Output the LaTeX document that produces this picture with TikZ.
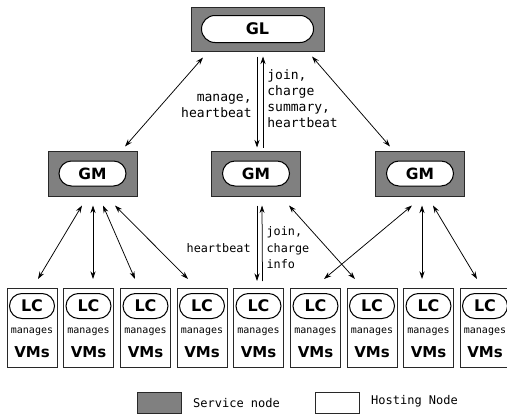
\documentclass[tikz,border=0pt]{standalone}
\usepackage{fontspec}
\setmainfont{DejaVu Sans}
\newfontfamily\monofont{DejaVu Sans Mono}
\usetikzlibrary{arrows.meta,shapes.misc}
\definecolor{srvgray}{RGB}{128,128,128}
\definecolor{edgegray}{RGB}{40,40,40}
\begin{document}
\begin{tikzpicture}[x=1pt,y=-1pt,
  >={Stealth[length=7.5pt,width=5pt]},
  service/.style={draw=edgegray, line width=1pt, fill=srvgray, inner sep=0pt},
  hosting/.style={draw=edgegray, line width=1pt, fill=white, inner sep=0pt},
  pill/.style={rounded rectangle, draw=black, line width=1pt, fill=white, inner sep=0pt},
  big/.style={font=\bfseries\fontsize{16}{16}\selectfont},
  conn/.style={line width=0.75pt},
  toplabel/.style={font=\monofont\fontsize{13}{16}\selectfont, inner sep=0pt},
  midlabel/.style={font=\monofont\fontsize{11.8}{16.5}\selectfont, inner sep=0pt},
  smalllabel/.style={font=\monofont\fontsize{10}{10}\selectfont, inner sep=0pt},
  legendlabel/.style={font=\monofont\fontsize{12}{12}\selectfont, inner sep=0pt, anchor=west}
]
\useasboundingbox (0,0) rectangle (507,415);

% GL
\node[service, minimum width=133pt, minimum height=44pt] (GL) at (257.5,29) {};
\node[pill, big, minimum width=112pt, minimum height=27pt] (GLp) at (GL) {GL};

% GMs
\foreach \n/\x in {1/92.5, 2/256, 3/420}{
  \node[service, minimum width=89pt, minimum height=45pt] (GM\n) at (\x,173.5) {};
  \node[pill, font=\bfseries\fontsize{15.5}{15.5}\selectfont, minimum width=67pt, minimum height=25pt] (GM\n p) at (GM\n) {GM};
}

% LCs
\foreach \i/\x in {1/32, 2/88.5, 3/145.5, 4/202, 5/258.5, 6/315.5, 7/372, 8/428.5, 9/485}{
  \node[hosting, minimum width=50pt, minimum height=79pt] (LC\i) at (\x,328) {};
  \node[pill, big, minimum width=45pt, minimum height=25pt] (LC\i p) at (\x,306) {LC};
  \node[smalllabel] (LC\i m) at (\x,331.5) {manages};
  \node[font=\bfseries\fontsize{15}{15}\selectfont, inner sep=0pt] (LC\i v) at (\x,352) {VMs};
}

% GL <-> GM
\draw[conn,<->] ([xshift=-54.5pt,yshift=-6pt]GL.south) -- ([xshift=32.5pt,yshift=4pt]GM1.north);
\draw[conn,<->] ([xshift=54.5pt,yshift=-5pt]GL.south) -- ([xshift=-30pt,yshift=4pt]GM3.north);
\draw[conn,->] ([xshift=-0.5pt,yshift=-5pt]GL.south) -- node[toplabel, anchor=east, xshift=-5pt, yshift=-4pt, align=right] (lblA) {manage,\\heartbeat} ([xshift=1pt,yshift=3pt]GM2.north);
\draw[conn,->] ([xshift=7pt,yshift=3pt]GM2.north) -- node[toplabel, anchor=west, xshift=4pt, yshift=3.5pt, align=left] (lblB) {join,\\charge\\summary,\\heartbeat} ([xshift=5.5pt,yshift=-5pt]GL.south);

% GM1 <-> LCs
\draw[conn,<->] ([xshift=-10.5pt,yshift=-9pt]GM1.south) -- ([xshift=6pt,yshift=9pt]LC1.north);
\draw[conn,<->] ([xshift=0.5pt,yshift=-9pt]GM1.south) -- ([xshift=4.5pt,yshift=9pt]LC2.north);
\draw[conn,<->] ([xshift=10.5pt,yshift=-9pt]GM1.south) -- ([xshift=-10.5pt,yshift=9pt]LC3.north);
\draw[conn,<->] ([xshift=22.5pt,yshift=-9pt]GM1.south) -- ([xshift=-14pt,yshift=9pt]LC4.north);

% GM2 <-> LCs
\draw[conn,->] ([xshift=1pt,yshift=-9pt]GM2.south) -- node[midlabel, anchor=east, xshift=-6pt, yshift=-5pt] (lblC) {heartbeat} ([xshift=-1.5pt,yshift=7pt]LC5.north);
\draw[conn,->] ([xshift=4pt,yshift=7pt]LC5.north) -- node[midlabel, anchor=west, xshift=4pt, yshift=-4.5pt, align=left] (lblD) {join,\\charge\\info} ([xshift=6pt,yshift=-9pt]GM2.south);
\draw[conn,<->] ([xshift=33pt,yshift=-9pt]GM2.south) -- ([xshift=-17pt,yshift=9pt]LC7.north);

% GM3 <-> LCs
\draw[conn,<->] ([xshift=-8pt,yshift=-9pt]GM3.south) -- ([xshift=8.5pt,yshift=9pt]LC6.north);
\draw[conn,<->] ([xshift=2pt,yshift=-9pt]GM3.south) -- ([xshift=-6.5pt,yshift=9pt]LC8.north);
\draw[conn,<->] ([xshift=13pt,yshift=-9pt]GM3.south) -- ([xshift=-8pt,yshift=9pt]LC9.north);

% Legend
\node[service, minimum width=44pt, minimum height=21pt] (legS) at (159,402.5) {};
\node[legendlabel] (legSt) at (193,403) {Service node};
\node[hosting, minimum width=44pt, minimum height=21pt] (legH) at (337,402.5) {};
\node[legendlabel] (legHt) at (371,401) {Hosting Node};
\end{tikzpicture}
\end{document}
